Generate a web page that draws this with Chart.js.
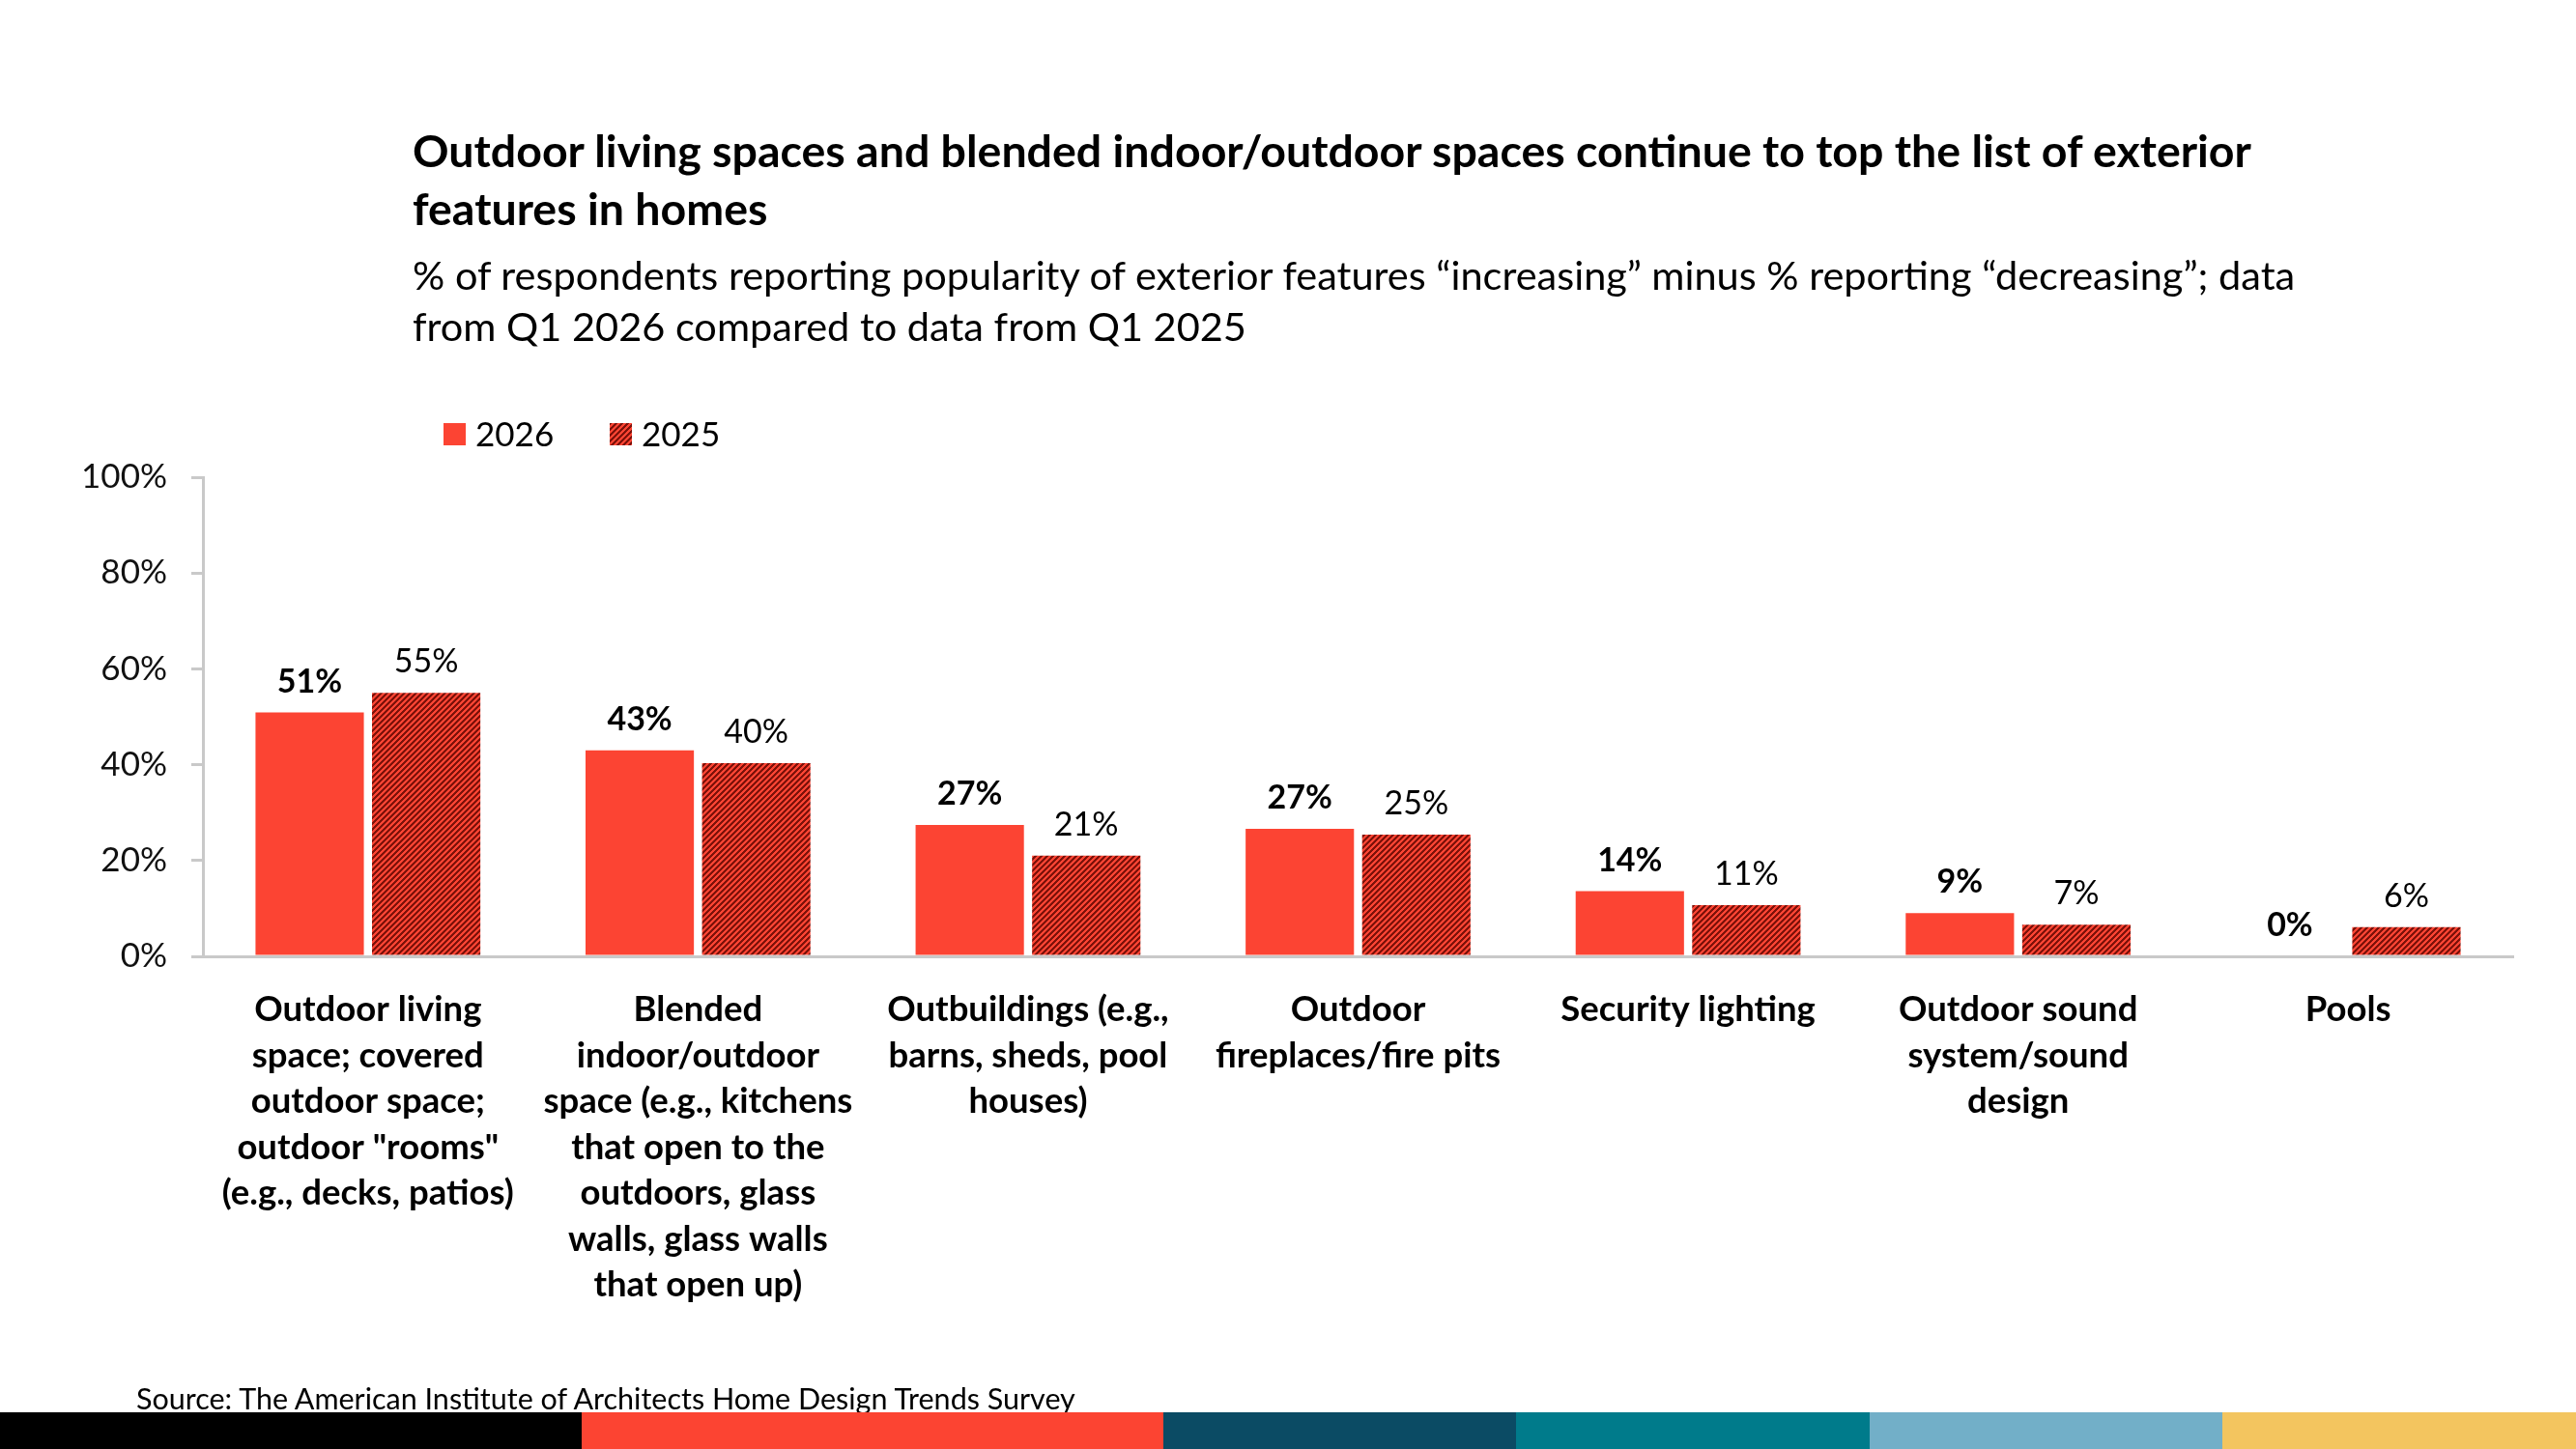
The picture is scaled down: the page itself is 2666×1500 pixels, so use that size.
<!DOCTYPE html>
<html><head><meta charset="utf-8">
<script src="https://cdn.jsdelivr.net/npm/chart.js@4.4.1/dist/chart.umd.min.js"></script>
<style>
html,body{margin:0;padding:0;background:#fff;}
body{width:2666px;height:1500px;position:relative;overflow:hidden;font-family:Lato,"Open Sans",sans-serif;color:#000;}
#c{position:absolute;left:0;top:0;}
.title{position:absolute;left:427px;top:125px;font-weight:700;font-size:46.5px;line-height:60px;white-space:nowrap;}
.sub{position:absolute;left:427px;top:258px;font-size:41.5px;line-height:53px;white-space:nowrap;}
.src{position:absolute;left:141px;top:1430px;font-size:30.5px;line-height:34px;white-space:nowrap;}
.band{position:absolute;top:1462px;height:38px;}
</style></head>
<body>
<canvas id="c" width="2666" height="1500"></canvas>
<div class="title">Outdoor living spaces and blended indoor/outdoor spaces continue to top the list of exterior<br>features in homes</div>
<div class="sub">% of respondents reporting popularity of exterior features “increasing” minus % reporting “decreasing”; data<br>from Q1 2026 compared to data from Q1 2025</div>
<div class="src">Source: The American Institute of Architects Home Design Trends Survey</div>
<div class="band" style="left:0;width:602px;background:#000000"></div>
<div class="band" style="left:602px;width:602px;background:#fc4432"></div>
<div class="band" style="left:1204px;width:365px;background:#0b4b64"></div>
<div class="band" style="left:1569px;width:366px;background:#007b8b"></div>
<div class="band" style="left:1935px;width:365px;background:#72afc8"></div>
<div class="band" style="left:2300px;width:366px;background:#f3c55f"></div>
<script>
// ---- data ----
const categories = [
  ["Outdoor living", "space; covered", "outdoor space;", "outdoor \"rooms\"", "(e.g., decks, patios)"],
  ["Blended", "indoor/outdoor", "space (e.g., kitchens", "that open to the", "outdoors, glass", "walls, glass walls", "that open up)"],
  ["Outbuildings (e.g.,", "barns, sheds, pool", "houses)"],
  ["Outdoor", "fireplaces/fire pits"],
  ["Security lighting"],
  ["Outdoor sound", "system/sound", "design"],
  ["Pools"]
];
const seriesNames = ["2026", "2025"];
const values2026 = [50.9, 43.0, 27.4, 26.6, 13.6, 9.0, 0];
const values2025 = [55.0, 40.3, 21.0, 25.4, 10.7, 6.6, 6.1];
const yTickValues = [0, 20, 40, 60, 80, 100];

// ---- styles ----
const RED = "#fc4433";
const DARK = "#7e120a";
const AXIS = "#c9c9c9";
const FONT = "Lato, 'Open Sans', sans-serif";

function makeHatch(base, dark) {
  const n = 6;
  const c = document.createElement("canvas");
  c.width = n; c.height = n;
  const x = c.getContext("2d");
  x.fillStyle = base; x.fillRect(0, 0, n, n);
  x.fillStyle = dark;
  for (let i = 0; i < n; i++) for (let j = 0; j < n; j++) {
    if ((i + j) % n < 3) x.fillRect(i, j, 1, 1);
  }
  return document.createElement("canvas").getContext("2d").createPattern(c, "repeat");
}
const hatch = makeHatch(RED, DARK);

const valueLabels = {
  id: "valueLabels",
  afterDatasetsDraw(chart) {
    const ctx = chart.ctx;
    ctx.save();
    ctx.textAlign = "center";
    ctx.textBaseline = "middle";
    ctx.fillStyle = "#000";
    chart.data.datasets.forEach((ds, i) => {
      const meta = chart.getDatasetMeta(i);
      ctx.font = (i === 0 ? "bold " : "") + "34px " + FONT;
      meta.data.forEach((bar, j) => {
        ctx.fillText(Math.round(ds.data[j]) + "%", bar.x, bar.y - 32);
      });
    });
    ctx.restore();
  }
};

const customLegend = {
  id: "customLegend",
  afterDraw(chart) {
    const ctx = chart.ctx;
    ctx.save();
    ctx.font = "35px " + FONT;
    ctx.textBaseline = "middle";
    ctx.textAlign = "left";
    chart.data.datasets.forEach((ds, i) => {
      const x0 = 459 + i * 172;
      ctx.fillStyle = ds.backgroundColor;
      ctx.fillRect(x0, 438, 23, 23);
      ctx.fillStyle = "#000";
      ctx.fillText(ds.label, x0 + 33, 451);
    });
    ctx.restore();
  }
};

new Chart(document.getElementById("c"), {
  type: "bar",
  data: {
    labels: categories,
    datasets: [
      { label: seriesNames[0], data: values2026, backgroundColor: RED },
      { label: seriesNames[1], data: values2025, backgroundColor: hatch }
    ]
  },
  options: {
    responsive: false,
    animation: false,
    events: [],
    layout: { padding: { top: 494, right: 65, left: 0, bottom: 0 } },
    datasets: { bar: { categoryPercentage: 0.706, barPercentage: 0.93 } },
    plugins: { legend: { display: false }, tooltip: { enabled: false }, title: { display: false } },
    scales: {
      x: {
        grid: { display: false },
        border: { display: true, color: AXIS, width: 3 },
        ticks: {
          autoSkip: false, maxRotation: 0, minRotation: 0, padding: 24,
          color: "#000",
          font: { family: FONT, size: 36.5, weight: "bold", lineHeight: 1.3 }
        },
        afterFit(s) { s.height = 510; }
      },
      y: {
        min: 0, max: 100,
        afterBuildTicks(s) { s.ticks = yTickValues.map(v => ({ value: v })); },
        grid: { display: true, drawOnChartArea: false, drawTicks: true, tickLength: 12, color: AXIS, lineWidth: 3 },
        border: { display: true, color: AXIS, width: 3 },
        ticks: {
          padding: 25, color: "#111",
          font: { family: FONT, size: 35 },
          callback: v => v + "%"
        },
        afterFit(s) { s.width = 210; }
      }
    }
  },
  plugins: [valueLabels, customLegend]
});
</script>
</body></html>
